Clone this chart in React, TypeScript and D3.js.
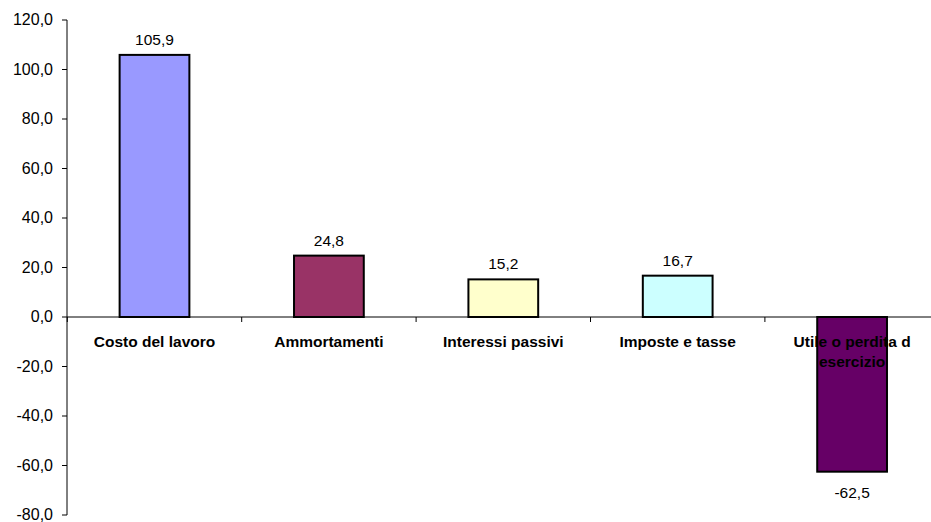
import React from "react";
import * as d3 from "d3";

const categories = ["Costo del lavoro", "Ammortamenti", "Interessi passivi", "Imposte e tasse", "Utile o perdita d esercizio"];
const values = [105.9, 24.8, 15.2, 16.7, -62.5];
const colors = ["#9999FF", "#993366", "#FFFFCC", "#CCFFFF", "#660066"];
const yTicks = [120, 100, 80, 60, 40, 20, 0, -20, -40, -60, -80];
const categoryLines = [["Costo del lavoro"], ["Ammortamenti"], ["Interessi passivi"], ["Imposte e tasse"], ["Utile o perdita d", "esercizio"]];

const W = 931;
const H = 522;
const fmt = (v: number) => v.toFixed(1).replace(".", ",");

export default function App() {
  const x = d3.scaleBand<string>().domain(categories).range([67.3, 67.3 + 174.4 * 5]).paddingInner(0).paddingOuter(0);
  const y = d3.scaleLinear().domain([-80, 120]).range([515, 20]);
  const bw = x.bandwidth() * 0.4;
  const font = "Arial, 'Liberation Sans', sans-serif";
  return (
    <svg width={W} height={H} style={{ position: "absolute", left: 0, top: 0 }} fontFamily={font}>
      <rect width={W} height={H} fill="#fff" />
      {categories.map((c, i) => {
        const v = values[i];
        const cx = x(c)! + x.bandwidth() / 2;
        const top = y(Math.max(0, v));
        const bot = y(Math.min(0, v));
        return (
          <g key={c}>
            <rect x={cx - bw / 2} y={top} width={bw} height={bot - top} fill={colors[i]} stroke="#000" strokeWidth={2} />
            <text x={cx} y={v >= 0 ? top - 10 : bot + 26} textAnchor="middle" fontSize={15.5} fill="#000">{fmt(v)}</text>
          </g>
        );
      })}
      {/* y axis */}
      <line x1={67} x2={67} y1={y(120)} y2={y(-80)} stroke="#000" strokeWidth={1} />
      {yTicks.map((t) => (
        <g key={t}>
          <line x1={62} x2={67} y1={y(t)} y2={y(t)} stroke="#000" />
          <text x={53} y={y(t)} dy="0.34em" textAnchor="end" fontSize={16} fill="#000">{fmt(t)}</text>
        </g>
      ))}
      {/* x axis */}
      <line x1={67} x2={W} y1={y(0)} y2={y(0)} stroke="#000" />
      {categories.map((c) => (
        <line key={"t" + c} x1={x(c)!} x2={x(c)!} y1={y(0)} y2={y(0) + 5} stroke="#000" />
      ))}
      {categories.map((c, i) => (
        <text key={"l" + c} x={x(c)! + x.bandwidth() / 2} y={y(0) + 30} textAnchor="middle" fontSize={15.5} fontWeight="bold" fill="#000">
          {categoryLines[i].map((ln, j) => (
            <tspan key={j} x={x(c)! + x.bandwidth() / 2} dy={j === 0 ? 0 : 20}>{ln}</tspan>
          ))}
        </text>
      ))}
    </svg>
  );
}
